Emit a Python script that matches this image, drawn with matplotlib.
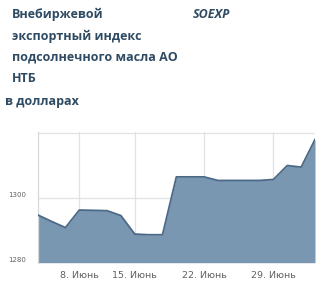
import matplotlib
matplotlib.use("Agg")
import matplotlib.pyplot as plt

dates = ["3.06", "4.06", "5.06", "8.06", "9.06", "10.06", "11.06",
         "15.06", "16.06", "17.06", "18.06", "19.06",
         "22.06", "23.06", "24.06", "25.06", "26.06",
         "29.06", "30.06", "1.07", "2.07"]
values = [1294.7, 1292.7, 1290.8, 1296.2, 1296.1, 1296.0, 1294.5,
          1288.8, 1288.6, 1288.6, 1306.4, 1306.4,
          1306.4, 1305.3, 1305.3, 1305.3, 1305.3,
          1305.6, 1309.9, 1309.4, 1317.9]
tick_dates = ["8.06", "15.06", "22.06", "29.06"]
tick_labels = ["8. Июнь", "15. Июнь", "22. Июнь", "29. Июнь"]
y_ticks = [1280, 1300, 1320]
y_tick_labels = ["1280", "1300", ""]

title_lines = ["Внебиржевой", "экспортный индекс", "подсолнечного масла АО", "НТБ"]
subtitle = "в долларах"
code = "SOEXP"

W, H = 320, 283
fig = plt.figure(figsize=(W / 100, H / 100), dpi=100)
fig.patch.set_facecolor("white")

ax = fig.add_axes([37.7 / W, 1 - 262.7 / H, (315 - 37.7) / W, (262.7 - 131.7) / H])
x = list(range(len(values)))
ax.fill_between(x, 1280, values, color="#7a97b2", alpha=1.0, linewidth=0, zorder=2)
ax.plot(x, values, color="#4c6a88", linewidth=1.3, zorder=3)

ax.set_xlim(0, len(values) - 1)
ax.set_ylim(1280, 1320.3)
ax.set_xticks([dates.index(d) for d in tick_dates])
ax.set_xticklabels(tick_labels, fontsize=6.8, color="#606060")
ax.set_yticks(y_ticks)
ax.set_yticklabels(y_tick_labels, fontsize=5, color="#606060")
ax.tick_params(axis="both", length=0)
ax.tick_params(axis="x", pad=6)
ax.tick_params(axis="y", pad=8)
for lab in ax.get_yticklabels():
    lab.set_verticalalignment("bottom")
ax.grid(True, color="#e2e2e2", linewidth=0.9, zorder=0)
for s in ["top", "right", "bottom"]:
    ax.spines[s].set_visible(False)
ax.spines["left"].set_color("#d8d8d8")
ax.spines["left"].set_linewidth(0.9)

tc = "#2f4b63"
fs = 9
ys = [14, 36, 57, 78]
for t, yy in zip(title_lines, ys):
    fig.text(12 / W, 1 - yy / H, t, fontsize=fs, fontweight="bold", color=tc,
             family="Open Sans", va="center", ha="left")
fig.text(5 / W, 1 - 101 / H, subtitle, fontsize=fs, fontweight="bold", color=tc,
         family="Open Sans", va="center", ha="left")
fig.text(193 / W, 1 - 14 / H, code, fontsize=fs, fontweight="bold", style="italic",
         color=tc, family="Open Sans", va="center", ha="left")

fig.savefig("out.png", dpi=100)
